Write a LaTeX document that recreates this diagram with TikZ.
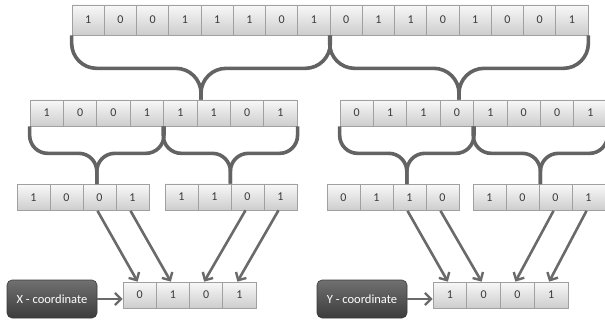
\documentclass[tikz,border=0pt]{standalone}
\usepackage{fontspec}
\setmainfont{Carlito}
\usetikzlibrary{arrows.meta,calc}
\definecolor{cellline}{HTML}{A0A0A0}
\definecolor{celltop}{HTML}{F8F8F8}
\definecolor{cellbot}{HTML}{CDCDCD}
\definecolor{celltext}{HTML}{3A3A3A}
\definecolor{bracecol}{HTML}{636363}
\definecolor{arrowcol}{HTML}{6A6A6A}
\definecolor{labtop}{HTML}{707070}
\definecolor{labbot}{HTML}{3C3C3C}

% one row of bit cells: name prefix, left x, centre y, cell width, cell height, bits
\newcommand\bitrow[6]{%
  \foreach \b [count=\i] in {#6}{%
    \node[cell, minimum width=#4pt, minimum height=#5pt] (#1\i) at ({#2+#4*(\i-0.5)},#3) {\b};
  }%
}
% curly brace under two cells, tip reaching the top of a lower node
\newcommand\bitbrace[5]{%
  \draw[brace, rounded corners=#5pt]
    let \p1=(#1.south west), \p2=(#2.south east), \p3=(#3.north) in
    (\x1,\y1) |- ({(\x1+\x2)/2},{\y1-#4pt}) -- ({(\x1+\x2)/2},\y3);
  \draw[brace, rounded corners=#5pt]
    let \p1=(#1.south west), \p2=(#2.south east), \p3=(#3.north) in
    (\x2,\y2) |- ({(\x1+\x2)/2},{\y2-#4pt}) -- ({(\x1+\x2)/2},\y3);
}

\begin{document}
\begin{tikzpicture}[x=1pt,y=-1pt,
  cell/.style={draw=cellline, line width=0.7pt, top color=celltop, bottom color=cellbot,
    inner sep=0pt, text=celltext, font=\fontsize{12}{14}\selectfont},
  brace/.style={draw=bracecol, line width=3.6pt},
  arr/.style={draw=arrowcol, line width=2.6pt,
    -{Straight Barb[length=6pt,width=12pt,line width=2.4pt]}},
  coordlab/.style={rounded corners=5pt, top color=labtop, bottom color=labbot,
    draw=labbot, line width=0.6pt, text=white, minimum width=90pt,
    minimum height=38pt, inner sep=0pt, font=\fontsize{12.5}{14}\selectfont}]
\useasboundingbox (0,0) rectangle (605,323);

% full 16-bit code
\bitrow{t}{72}{20}{32.25}{30}{1,0,0,1,1,1,0,1,0,1,1,0,1,0,0,1}
% two 8-bit halves
\bitrow{l}{30}{113}{33.4}{26}{1,0,0,1,1,1,0,1}
\bitrow{r}{340}{113}{33.4}{26}{0,1,1,0,1,0,0,1}
% four 4-bit quarters
\bitrow{a}{17}{197.5}{33}{26}{1,0,0,1}
\bitrow{b}{165}{197}{33}{26}{1,1,0,1}
\bitrow{c}{327}{197.5}{33}{26}{0,1,1,0}
\bitrow{d}{473}{197.5}{33}{26}{1,0,0,1}
% interleaved results
\bitrow{x}{123}{295}{33.25}{26}{0,1,0,1}
\bitrow{y}{433}{295}{33.75}{26}{1,0,0,1}

% braces
\bitbrace{t1}{t8}{l5}{33}{25}
\bitbrace{t9}{t16}{r4}{33}{25}
\bitbrace{l1}{l4}{a3}{27}{18}
\bitbrace{l5}{l8}{b2}{27}{18}
\bitbrace{r1}{r4}{c3}{27}{18}
\bitbrace{r5}{r8}{d2}{27}{18}

% bit selection arrows
\draw[arr] ([xshift=-2pt]a3.south) -- ([xshift=-2pt]x1.north);
\draw[arr] ([xshift=-2pt]a4.south) -- ([xshift=-2pt]x2.north);
\draw[arr] ([xshift=-2pt]b3.south) -- ([xshift=-2pt]x3.north);
\draw[arr] ([xshift=-2pt]b4.south) -- ([xshift=-2pt]x4.north);
\draw[arr] ([xshift=-2pt]c3.south) -- ([xshift=-2pt]y1.north);
\draw[arr] ([xshift=-2pt]c4.south) -- ([xshift=-2pt]y2.north);
\draw[arr] ([xshift=-2pt]d3.south) -- ([xshift=-2pt]y3.north);
\draw[arr] ([xshift=-2pt]d4.south) -- ([xshift=-2pt]y4.north);

% coordinate labels
\node[coordlab] (xl) at (52,299) {X - coordinate};
\node[coordlab] (yl) at (362,299) {Y - coordinate};
\draw[arr] (xl.east) -- (xl.east -| x1.west);
\draw[arr] (yl.east) -- (yl.east -| y1.west);
\end{tikzpicture}
\end{document}
